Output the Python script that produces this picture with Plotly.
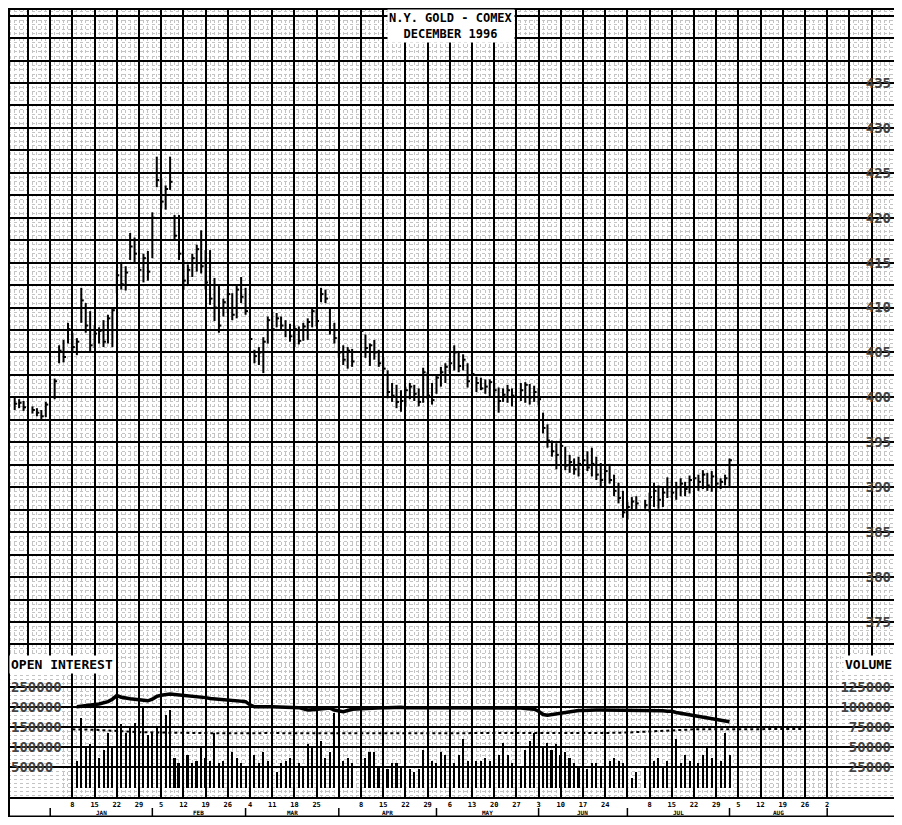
import numpy as np
import pandas as pd
import plotly.graph_objects as go

# trading days shown on the chart (exchange holidays left out)
holidays = ['1995-12-25', '1996-01-01', '1996-04-05', '1996-05-27', '1996-07-04']
days = pd.bdate_range('1995-12-20', '1996-08-01')
days = days[~days.isin(pd.to_datetime(holidays))]

# daily high / low / close, $ per oz
high = [400.0, 399.8, 399.6, 399.0, 398.8, 398.6, 399.5,
        402.1, 405.8, 406.4, 408.3, 407.2, 406.6, 412.2, 410.5, 409.6, 408.0,
        407.8, 408.6, 409.2, 410.0, 414.2, 415.0, 414.6, 418.3, 417.8, 416.7,
        416.0, 416.3, 420.6, 426.8, 424.4, 423.6, 426.8, 420.3, 420.3, 415.3,
        414.8, 416.0, 417.0, 418.6, 416.4, 416.4, 413.3, 412.5, 411.0, 412.0,
        411.6, 412.6, 413.4, 412.2, 409.8, 405.3, 405.6, 406.7, 409.0, 409.5,
        409.4, 409.0, 408.6, 408.2, 408.0, 407.9, 408.3, 408.8, 410.0, 409.8,
        412.2, 412.0, 410.0, 408.3, 406.7, 405.8, 405.6, 405.4,
        408.0, 407.0, 406.0, 406.4, 405.3, 404.5, 403.0, 401.6, 401.4, 400.8,
        401.2, 401.6, 401.4, 401.0, 403.3, 402.8, 401.6, 402.6, 403.4, 403.8,
        404.4, 405.8, 405.0, 404.8, 403.8, 403.0, 402.3, 402.2, 402.0, 402.0,
        401.6, 401.1, 401.0, 401.4, 401.0,
        401.6, 401.7, 401.5, 401.3, 401.0, 398.3, 397.0, 395.2, 394.9, 395.4,
        394.5, 393.6, 393.2, 393.4, 393.6, 394.0, 394.4, 393.4, 392.7, 392.4,
        392.6, 391.4, 390.5, 389.6, 388.4, 388.9, 389.0, 388.6,
        389.4, 390.5, 390.2, 390.0, 391.1, 390.8, 390.6, 391.0, 390.6, 391.3,
        391.6, 391.4, 391.9, 391.6, 391.8, 391.2, 391.0, 391.4, 393.2]
low = [398.6, 398.8, 398.5, 398.2, 397.9, 397.6, 397.8,
       399.8, 403.8, 403.9, 406.0, 405.0, 404.7, 408.3, 407.2, 405.0, 405.5,
       406.0, 405.6, 406.0, 405.6, 411.6, 412.0, 411.9, 415.3, 415.0, 413.3,
       412.8, 413.0, 415.5, 423.4, 421.0, 420.9, 423.1, 417.5, 415.3, 412.0,
       412.5, 413.4, 414.0, 413.8, 412.0, 410.3, 408.5, 407.2, 409.0, 409.4,
       408.6, 408.8, 410.5, 409.2, 406.0, 403.8, 403.6, 402.7, 406.0, 406.4,
       407.8, 407.6, 406.7, 406.2, 405.6, 405.9, 406.3, 406.4, 407.8, 407.9,
       410.6, 410.5, 407.0, 406.0, 404.4, 403.6, 403.2, 403.4,
       404.8, 404.4, 403.5, 404.2, 403.4, 402.8, 399.9, 399.5, 398.8, 398.4,
       399.0, 399.8, 399.6, 399.0, 399.4, 399.8, 399.2, 400.4, 401.2, 401.6,
       402.7, 403.0, 402.8, 403.0, 401.1, 401.4, 400.6, 400.8, 400.4, 400.0,
       400.0, 398.3, 399.5, 399.4, 399.0,
       399.6, 399.4, 399.2, 399.5, 399.1, 396.0, 394.4, 393.4, 392.0, 393.0,
       391.9, 391.6, 391.4, 391.2, 391.6, 391.8, 391.2, 390.8, 390.0, 389.7,
       390.4, 389.0, 388.2, 386.6, 386.4, 387.5, 387.5, 387.6,
       387.2, 387.8, 387.6, 387.8, 388.8, 388.8, 388.6, 389.0, 389.0, 389.3,
       389.8, 389.6, 389.8, 389.6, 389.5, 389.6, 389.8, 390.2, 390.0]
close = [399.3, 399.4, 398.9, 398.6, 398.3, 397.9, 399.2,
         401.8, 405.2, 404.5, 407.6, 405.6, 406.2, 410.8, 408.0, 405.8, 407.1,
         407.4, 406.2, 408.8, 409.7, 413.6, 412.6, 413.9, 416.8, 416.0, 414.2,
         415.5, 414.0, 420.0, 424.2, 421.8, 423.2, 424.0, 418.0, 416.0, 413.0,
         414.2, 415.5, 416.5, 414.6, 412.8, 411.0, 410.0, 408.0, 410.6, 411.5,
         409.2, 412.0, 411.2, 409.6, 406.5, 404.6, 405.0, 406.2, 408.6, 407.6,
         408.8, 408.0, 407.5, 406.8, 407.6, 406.3, 407.9, 408.4, 409.6, 408.5,
         411.5, 411.0, 407.5, 406.6, 405.0, 404.2, 405.2, 404.0,
         407.4, 405.5, 405.8, 405.0, 403.8, 403.2, 400.6, 400.2, 399.5, 399.6,
         400.8, 401.2, 400.4, 399.5, 402.8, 400.2, 399.7, 402.2, 402.8, 403.4,
         403.8, 405.0, 403.5, 404.2, 401.8, 402.6, 401.6, 401.0, 401.2, 401.7,
         400.8, 399.6, 400.3, 400.8, 400.2,
         400.8, 401.4, 400.0, 400.6, 399.8, 396.6, 395.2, 394.0, 393.6, 394.6,
         392.4, 392.8, 392.0, 392.6, 393.0, 392.2, 392.6, 391.4, 390.8, 391.8,
         390.8, 389.6, 388.8, 387.2, 387.8, 388.4, 388.2, 388.0,
         388.9, 389.6, 388.6, 389.4, 390.0, 389.4, 390.0, 390.4, 389.8, 390.8,
         391.0, 390.6, 391.4, 390.2, 391.2, 390.4, 390.6, 391.0, 393.0]

# volume and open interest, thousands of contracts (start Jan 8)
volume = [None] * 12 + [
    33, 86, 51, 54, 40, 37, 47, 68, 51, 68, 79, 68, 76, 81, 54, 100, 65, 68, 76, 47,
    90, 97, 37, 30, 33, 40, 30, 33, 51, 37, 33, 68, 30, 33, 33, 44, 37, 30, 26, 23,
    40, 30, 44, 33, 26, 19, 30, 33, 37, 44, 30, 26, 54, 51, 72, 58, 37, 44, 93, 40,
    33, 37, 30, 26, 37, 44, 44, 26, 30, 23, 30,
    31, 26, 19, 23, 19, 23, 47, 44, 33, 30, 44, 40, 37, 30, 40, 60, 33, 44, 33, 33,
    37, 33, 30, 40, 56, 40, 30, 26, 47, 58, 68, 44, 51, 56, 47, 54, 40, 44, 37, 30,
    26, 19, 23, 30, 30, 26, 23, 33, 37, 33, 30, 19, 12, 19, 26, 30, 33, 37, 26, 33,
    40, 60, 30, 40, 33, 40, 30, 40, 51, 37, 40, 33, 68, 40]
open_interest = [None] * 12 + [
    201, 203, 205, 206, 207, 208, 210, 214, 220, 229, 225, 222, 221, 220, 219, 218,
    216, 220, 227, 230, 232, 233, 232, 231, 231, 230, 229, 227, 226, 224, 222, 221,
    220, 219, 218, 217, 216, 215, 214, 206, 201, 201, 202, 201, 201, 201, 200, 200,
    200, 199, 199, 196, 193, 194, 195, 197, 199, 198, 193, 190, 189, 192, 195,
    196, 197, 198, 198, 199, 199, 199, 200, 200, 200, 199, 199, 199, 200, 200, 200,
    199, 199, 200, 200, 199, 199, 200, 199, 199, 199, 200, 199, 199, 199, 200, 199,
    199, 198, 198,
    198, 197, 196, 195, 190, 182, 180, 182, 184, 186, 188, 190, 191, 192, 192, 193,
    193, 193, 193, 193, 193, 193, 193, 193, 192, 192, 192, 192,
    192, 191, 191, 191, 190, 190, 187, 185, 183, 180, 178, 176, 174, 172, 170, 168,
    167, 165, 164]

# lower dotted line, weekly
avg_dates = pd.date_range('1996-01-08', '1996-08-26', freq='W-MON')
avg_line = [145, 144, 141, 138, 137, 136, 135, 135, 135, 136, 135, 135, 136, 135,
            135, 136, 135, 135, 136, 136, 135, 135, 136, 135, 136, 137, 140, 143,
            145, 145, 145, 146, 146, 146]

# bottom axis labels, one per Monday from Dec 25 1995
week_labels = ['26', '', '8', '15', '22', '29', '5', '12', '19', '26', '4', '11',
               '18', '25', '', '8', '15', '22', '29', '6', '13', '20', '27', '3',
               '10', '17', '24', '', '8', '15', '22', '29', '5', '12', '19', '26',
               '2', '9', '']
months = ['JAN', 'FEB', 'MAR', 'APR', 'MAY', 'JUN', 'JUL', 'AUG', 'SEP']

price_ticks = [375, 380, 385, 390, 395, 400, 405, 410, 415, 420, 425, 430, 435]
oi_ticks = [50000, 100000, 150000, 200000, 250000]
vol_ticks = [25000, 50000, 75000, 100000, 125000]


def bday(d):
    d = np.asarray(pd.to_datetime(d).values, dtype='datetime64[D]')
    return np.busday_count(np.datetime64('1996-01-01'), d)


x = bday(days)
mondays = pd.date_range('1995-12-25', periods=len(week_labels), freq='W-MON')
week_x = bday(mondays)
month_start = bday([pd.bdate_range(f'1996-{m:02d}-01', periods=1)[0] for m in range(1, 10)])

FONT = 'DejaVu Sans Mono'
PLOT_H = 789          # plot area height in px
STRIP = 20            # date strip under the plot
split = 133 / PLOT_H  # volume panel share

# high-low bars with close tick on the right
bx, by = [], []
for xi, h, l, c in zip(x, high, low, close):
    bx += [xi, xi, None, xi, xi + 0.55, None]
    by += [l, h, None, c, c, None]

fig = go.Figure()
fig.add_trace(go.Scatter(x=bx, y=by, mode='lines', line=dict(color='black', width=2),
                         hoverinfo='skip'))
fig.add_trace(go.Bar(x=x, y=[v * 1000 if v is not None else None for v in volume],
                     yaxis='y3', width=0.45, marker=dict(color='black', line_width=0)))
fig.add_trace(go.Scatter(x=x, y=[v * 1000 if v is not None else None for v in open_interest],
                         yaxis='y2', mode='lines', line=dict(color='black', width=3.5)))
fig.add_trace(go.Scatter(x=bday(avg_dates), y=[v * 1000 for v in avg_line], yaxis='y2',
                         mode='lines', line=dict(color='black', width=2, dash='dot')))

minor_grid = dict(showgrid=True, gridcolor='#c4c4c4', griddash='dot', gridwidth=1)
price_grid = [372.5 + 2.5 * i for i in range(29)]

fig.update_layout(
    width=886, height=PLOT_H + STRIP,
    margin=dict(l=0, r=0, t=0, b=STRIP),
    paper_bgcolor='white', plot_bgcolor='white',
    showlegend=False, bargap=0,
    font=dict(family=FONT, color='black', weight='bold'),
    xaxis=dict(domain=[0, 1], range=[-9.51, 190.05], anchor='y2',
               tickmode='array', tickvals=week_x, ticktext=week_labels,
               tickfont=dict(size=7), ticks='', showgrid=True,
               gridcolor='black', gridwidth=1.6, zeroline=False,
               showline=True, linecolor='black', linewidth=2,
               minor=dict(tickmode='linear', tick0=0, dtick=1, **minor_grid)),
    yaxis=dict(domain=[split, 1], range=[370.32, 443.35], anchor='x', side='right',
               tickmode='array', tickvals=price_grid,
               ticktext=[str(int(v)) if v in price_ticks else '' for v in price_grid],
               ticklabelposition='inside', ticks='', tickfont=dict(size=14),
               showgrid=True, gridcolor='black', gridwidth=1.6, zeroline=False,
               minor=dict(tickmode='linear', tick0=0, dtick=0.5, **minor_grid)),
    yaxis2=dict(domain=[0, split], range=[-23500, 307700], anchor='x', side='left',
                tickmode='array', tickvals=oi_ticks, ticktext=[str(v) for v in oi_ticks],
                ticklabelposition='inside', ticks='', tickfont=dict(size=14),
                showgrid=True, gridcolor='black', gridwidth=1.6, zeroline=False,
                minor=dict(tickmode='linear', tick0=0, dtick=10000, **minor_grid)),
    yaxis3=dict(overlaying='y2', range=[-11750, 153850], anchor='x', side='right',
                tickmode='array', tickvals=vol_ticks, ticktext=[str(v) for v in vol_ticks],
                ticklabelposition='inside', ticks='', tickfont=dict(size=14),
                showgrid=False, zeroline=False),
)

fig.add_annotation(x=0.5, y=1, xref='paper', yref='paper', xanchor='center', yanchor='top',
                   text='N.Y. GOLD - COMEX<br>DECEMBER 1996', showarrow=False,
                   bgcolor='white', font=dict(size=12), yshift=-1)
fig.add_annotation(x=0, y=split - 10 / PLOT_H, xref='paper', yref='paper', xanchor='left',
                   text='OPEN INTEREST', showarrow=False, bgcolor='white',
                   font=dict(size=13), xshift=1)
fig.add_annotation(x=1, y=split - 10 / PLOT_H, xref='paper', yref='paper', xanchor='right',
                   text='VOLUME', showarrow=False, bgcolor='white', font=dict(size=13))
for i, m in enumerate(months[:-1]):
    fig.add_annotation(x=(month_start[i] + month_start[i + 1]) / 2,
                       y=-(STRIP - 0.5) / PLOT_H, xref='x', yref='paper', text=m,
                       showarrow=False, yanchor='bottom', borderpad=0, font=dict(size=6))

# frame and month separators in the date strip
fig.add_shape(type='line', xref='paper', yref='paper', x0=0, x1=0,
              y0=-STRIP / PLOT_H, y1=1, line=dict(color='black', width=4))
fig.add_shape(type='line', xref='paper', yref='paper', x0=0, x1=1, y0=1, y1=1,
              line=dict(color='black', width=4))
fig.add_shape(type='line', xref='paper', yref='paper', x0=0, x1=1,
              y0=-(STRIP - 0.5) / PLOT_H, y1=-(STRIP - 0.5) / PLOT_H,
              line=dict(color='black', width=2))
for ms in month_start:
    fig.add_shape(type='line', xref='x', yref='paper', x0=ms, x1=ms,
                  y0=-(STRIP - 0.5) / PLOT_H, y1=-11 / PLOT_H,
                  line=dict(color='black', width=1.5))

fig.write_html('out.html')
